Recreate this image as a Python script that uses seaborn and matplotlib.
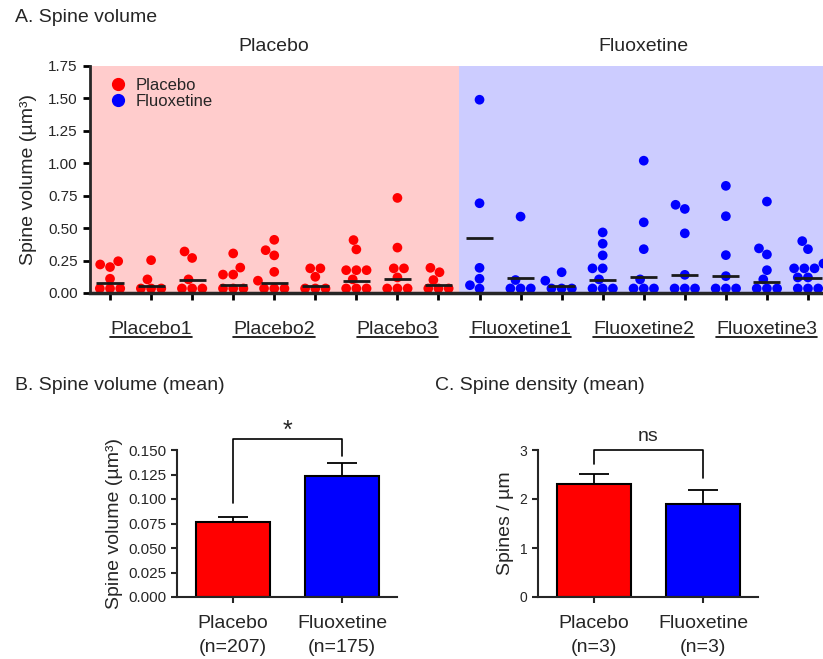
import numpy as np
import pandas as pd
import matplotlib
matplotlib.use("Agg")
import matplotlib.pyplot as plt
from matplotlib.lines import Line2D
import seaborn as sns

sns.set_theme(style="ticks")
plt.rcParams['font.family'] = ['Liberation Sans', 'DejaVu Sans']

# ---- data ----
group_names = ["Placebo", "Fluoxetine"]
animal_labels = ["Placebo1", "Placebo2", "Placebo3",
                 "Fluoxetine1", "Fluoxetine2", "Fluoxetine3"]

# spine volumes per dendrite (um^3), 3 dendrites per animal (visible dots only)
placebo_spines = [
    [0.245, 0.22, 0.20, 0.11, 0.035, 0.035, 0.035],
    [0.253, 0.105, 0.035, 0.035, 0.035],
    [0.32, 0.27, 0.105, 0.035, 0.035, 0.035],
    [0.305, 0.196, 0.142, 0.142, 0.035, 0.035, 0.035],
    [0.41, 0.33, 0.29, 0.163, 0.095, 0.035, 0.035, 0.035],
    [0.19, 0.19, 0.125, 0.035, 0.035, 0.035],
    [0.408, 0.336, 0.176, 0.176, 0.176, 0.105, 0.035, 0.035, 0.035],
    [0.733, 0.35, 0.19, 0.19, 0.12, 0.035, 0.035, 0.035],
    [0.194, 0.16, 0.10, 0.035, 0.035, 0.035],
]
fluoxetine_spines = [
    [1.49, 0.692, 0.194, 0.11, 0.06, 0.034],
    [0.589, 0.10, 0.035, 0.035, 0.035],
    [0.16, 0.095, 0.035, 0.035, 0.035],
    [0.467, 0.38, 0.29, 0.19, 0.19, 0.105, 0.035, 0.035, 0.035],
    [1.02, 0.545, 0.338, 0.105, 0.035, 0.035, 0.035],
    [0.68, 0.648, 0.46, 0.14, 0.035, 0.035, 0.035],
    [0.826, 0.592, 0.292, 0.13, 0.035, 0.035, 0.035],
    [0.705, 0.344, 0.297, 0.176, 0.105, 0.035, 0.035, 0.035],
    [0.40, 0.338, 0.227, 0.19, 0.19, 0.19, 0.12, 0.12, 0.035, 0.035, 0.035],
]
# per-dendrite means (lines), from all spines
placebo_means = [0.078, 0.052, 0.103, 0.062, 0.078, 0.052, 0.090, 0.108, 0.065]
fluoxetine_means = [0.426, 0.119, 0.057, 0.098, 0.124, 0.137, 0.129, 0.085, 0.119]

# group means
vol_means = [0.077, 0.123]
vol_sem = [0.005, 0.014]
vol_n = [207, 175]
dens_means = [2.30, 1.90]
dens_sem = [0.22, 0.28]
dens_n = [3, 3]

RED = "#FF0000"
BLUE = "#0000FF"

# long table for seaborn
rows = []
for g, cols in zip(group_names, [placebo_spines, fluoxetine_spines]):
    for i, vals in enumerate(cols):
        for v in vals:
            rows.append({"dendrite": f"{g}{i // 3 + 1}_{i % 3 + 1}", "group": g, "volume": v})
df = pd.DataFrame(rows)
order = list(dict.fromkeys(df["dendrite"]))

fig = plt.figure(figsize=(8.23, 6.59), dpi=100)

# ---------------- A. Spine volume ----------------
axA = fig.add_axes([89.5 / 823, 1 - 293 / 659, 739 / 823, 227 / 659])
axA.axvspan(-0.5, 8.5, color="#FFCCCC", zorder=0, lw=0)
axA.axvspan(8.5, 17.5, color="#CCCCFF", zorder=0, lw=0)
sns.swarmplot(data=df, x="dendrite", y="volume", hue="group", order=order,
              palette={"Placebo": RED, "Fluoxetine": BLUE}, size=7,
              linewidth=0, legend=False, ax=axA, zorder=3, warn_thresh=1)
xs = np.arange(len(order))
axA.hlines(placebo_means + fluoxetine_means, xs - 0.33, xs + 0.33,
           color="#1a1a1a", lw=2, zorder=4)
axA.set_xlim(-0.5, 17.5)
axA.set_ylim(0, 1.75)
axA.set_yticks(np.arange(0, 1.76, 0.25))
axA.set_yticklabels([f"{t:.2f}" for t in np.arange(0, 1.76, 0.25)], fontsize=11)
axA.set_xticks(xs)
axA.set_xticklabels([])
axA.set_xlabel("")
axA.set_ylabel("Spine volume (µm³)", fontsize=14, labelpad=8)
for s in ["top", "right"]:
    axA.spines[s].set_visible(False)
axA.spines["left"].set_linewidth(2)
axA.spines["bottom"].set_linewidth(2.5)
axA.spines["bottom"].set_zorder(5)
axA.tick_params(axis="both", width=2, length=5, color="black")
axA.set_facecolor("white")

axA.text(4, 1.084, "Placebo", transform=axA.get_xaxis_transform(),
         ha="center", va="center", fontsize=14)
axA.text(13, 1.084, "Fluoxetine", transform=axA.get_xaxis_transform(),
         ha="center", va="center", fontsize=14)

label_texts = []
for k, lab in enumerate(animal_labels):
    t = axA.text(3 * k + 1, -0.16, lab, transform=axA.get_xaxis_transform(),
                 ha="center", va="center", fontsize=14)
    label_texts.append(t)

handles = [Line2D([], [], marker="o", ls="", color=RED, markersize=8.5),
           Line2D([], [], marker="o", ls="", color=BLUE, markersize=8.5)]
axA.legend(handles, group_names, loc="upper left", frameon=False, fontsize=12,
           handletextpad=0.05, borderaxespad=0.3, labelspacing=0.1,
           bbox_to_anchor=(0.0, 1.0))

# ---------------- bar panels ----------------
def bar_panel(ax, means, sems, ns, ylim, yticks, fmt, ylabel, tick_fs,
              bracket, sig, sig_fs):
    labels = [f"{g}\n(n={n})" for g, n in zip(group_names, ns)]
    sns.barplot(x=labels, y=means, hue=labels, palette=[RED, BLUE],
                legend=False, width=0.68, edgecolor="black", linewidth=1.5,
                ax=ax, zorder=2, saturation=1)
    ax.errorbar([0, 1], means, yerr=[[0, 0], sems], fmt="none",
                ecolor="black", elinewidth=1.3, capsize=11, capthick=1.3,
                zorder=1)
    ax.set_xlim(-0.51, 1.5)
    ax.set_ylim(*ylim)
    ax.set_yticks(yticks)
    ax.set_yticklabels([fmt.format(t) for t in yticks], fontsize=tick_fs)
    ax.set_ylabel(ylabel, fontsize=14)
    ax.tick_params(axis="x", labelsize=14, width=1.5, length=4, pad=9)
    ax.tick_params(axis="y", width=1.5, length=4)
    for lab in ax.get_xticklabels():
        lab.set_linespacing(1.55)
    for s in ["top", "right"]:
        ax.spines[s].set_visible(False)
    ax.spines["left"].set_linewidth(1.5)
    ax.spines["bottom"].set_linewidth(1.5)
    yl, ytop, yr, ytext = bracket
    ax.plot([0, 0, 1, 1], [yl, ytop, ytop, yr], color="black", lw=1.2,
            clip_on=False)
    ax.text(0.5, ytext, sig, ha="center", va="center", fontsize=sig_fs)

axB = fig.add_axes([177 / 823, 1 - 597 / 659, 220 / 823, 147 / 659])
bar_panel(axB, vol_means, vol_sem, vol_n, (0, 0.150),
          np.arange(0, 0.151, 0.025), "{:.3f}", "Spine volume (µm³)", 11,
          (0.096, 0.161, 0.144, 0.170), "*", 18)

axC = fig.add_axes([538 / 823, 1 - 597 / 659, 220 / 823, 147 / 659])
bar_panel(axC, dens_means, dens_sem, dens_n, (0, 3), [0, 1, 2, 3], "{:d}",
          "Spines / µm", 10, (2.72, 3.01, 2.43, 3.27), "ns", 14)

fig.text(15 / 823, 1 - 17 / 659, "A. Spine volume", fontsize=14, va="center")
fig.text(15 / 823, 1 - 385 / 659, "B. Spine volume (mean)", fontsize=14, va="center")
fig.text(435 / 823, 1 - 385 / 659, "C. Spine density (mean)", fontsize=14, va="center")

# underline the animal labels
fig.canvas.draw()
inv = fig.transFigure.inverted()
for t in label_texts:
    bb = t.get_window_extent()
    (x0, y0), (x1, _) = inv.transform([[bb.x0, bb.y0], [bb.x1, bb.y1]])
    fig.add_artist(Line2D([x0, x1], [y0 + 0.002, y0 + 0.002],
                          color="black", lw=1.2, transform=fig.transFigure))

fig.savefig("out.png", dpi=100)
